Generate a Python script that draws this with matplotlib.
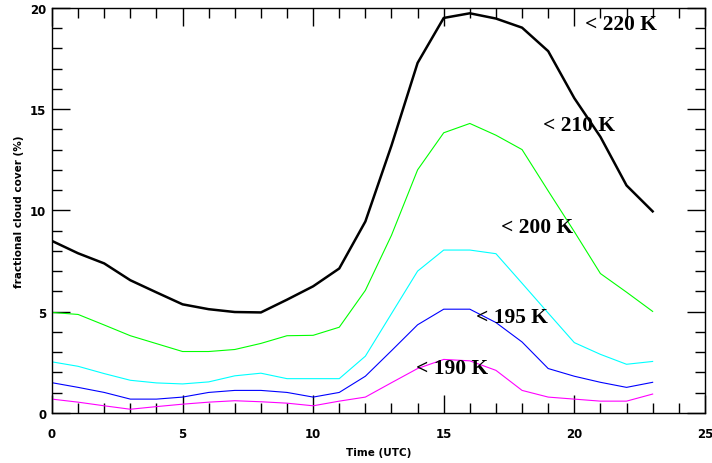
import matplotlib
matplotlib.use("Agg")
import matplotlib.pyplot as plt
from matplotlib.ticker import MultipleLocator

hours = list(range(24))
cc_220 = [8.49, 7.88, 7.38, 6.55, 5.95, 5.36, 5.12, 4.98, 4.96, 5.59, 6.25, 7.13,
          9.45, 13.2, 17.28, 19.5, 19.73, 19.47, 19.02, 17.86, 15.54, 13.63, 11.23, 9.95]
cc_210 = [4.96, 4.86, 4.34, 3.81, 3.42, 3.03, 3.03, 3.13, 3.43, 3.81, 3.83, 4.23,
          6.05, 8.77, 12.0, 13.83, 14.29, 13.71, 13.0, 10.96, 8.95, 6.88, 5.96, 5.01]
cc_200 = [2.52, 2.30, 1.94, 1.61, 1.48, 1.43, 1.53, 1.83, 1.96, 1.69, 1.69, 1.69,
          2.80, 4.9, 7.0, 8.04, 8.04, 7.86, 6.4, 4.93, 3.47, 2.89, 2.40, 2.54]
cc_195 = [1.49, 1.26, 1.01, 0.68, 0.68, 0.78, 1.01, 1.11, 1.11, 1.01, 0.78, 1.01,
          1.81, 3.07, 4.35, 5.12, 5.12, 4.46, 3.50, 2.19, 1.81, 1.51, 1.26, 1.51]
cc_190 = [0.68, 0.53, 0.35, 0.18, 0.31, 0.43, 0.53, 0.60, 0.55, 0.48, 0.35, 0.58,
          0.78, 1.49, 2.19, 2.64, 2.57, 2.10, 1.11, 0.78, 0.68, 0.58, 0.58, 0.93]

series = [
    (cc_220, "black", 1.8, "< 220 K", 20.4, 19.2),
    (cc_210, "#00ff00", 0.8, "< 210 K", 18.8, 14.2),
    (cc_200, "#00ffff", 0.8, "< 200 K", 17.2, 9.2),
    (cc_195, "#0000ff", 0.8, "< 195 K", 16.25, 4.73),
    (cc_190, "#ff00ff", 0.8, "< 190 K", 13.95, 2.24),
]

fig = plt.figure(figsize=(7.12, 4.64), dpi=100)
ax = fig.add_axes([0.073, 0.108, 0.917, 0.873])

for vals, col, lw, lab, tx, ty in series:
    ax.plot(hours, vals, color=col, lw=lw)
    ax.text(tx, ty, lab, fontsize=15.5, fontweight="bold",
            family="Liberation Serif", ha="left", va="center")

ax.set_xlim(0, 25)
ax.set_ylim(0, 20)
ax.xaxis.set_major_locator(MultipleLocator(5))
ax.xaxis.set_minor_locator(MultipleLocator(1))
ax.yaxis.set_major_locator(MultipleLocator(5))
ax.yaxis.set_minor_locator(MultipleLocator(1))
ax.tick_params(which="both", direction="in", top=True, right=True, width=1)
ax.tick_params(which="major", length=13, labelsize=8.5)
ax.tick_params(axis="x", which="major", pad=10)
ax.tick_params(axis="y", which="major", pad=4)
ax.tick_params(which="minor", length=7)
for lbl in ax.get_xticklabels() + ax.get_yticklabels():
    lbl.set_fontweight("bold")
for s in ax.spines.values():
    s.set_linewidth(1)

ax.set_xlabel("Time (UTC)", fontsize=7.5, fontweight="bold", labelpad=5)
ax.set_ylabel("fractional cloud cover (%)", fontsize=7.5, fontweight="bold", labelpad=4)

fig.savefig("out.png", dpi=100)
